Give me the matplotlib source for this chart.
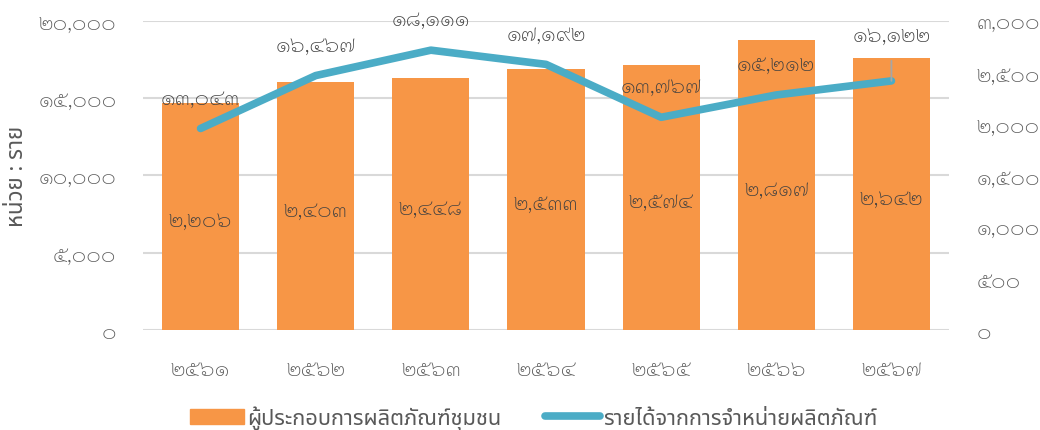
import matplotlib
matplotlib.use('Agg')
import matplotlib.pyplot as plt
from matplotlib.ticker import FuncFormatter

plt.rcParams['font.family'] = ['Sarabun', 'Noto Sans Thai', 'DejaVu Sans']
plt.rcParams['font.weight'] = 'light'

years = ['๒๕๖๑', '๒๕๖๒', '๒๕๖๓', '๒๕๖๔', '๒๕๖๕', '๒๕๖๖', '๒๕๖๗']
producers = [2206, 2403, 2448, 2533, 2574, 2817, 2642]
income = [13043, 16467, 18111, 17192, 13767, 15212, 16122]
bar_label = 'ผู้ประกอบการผลิตภัณฑ์ชุมชน'
line_label = 'รายได้จากการจำหน่ายผลิตภัณฑ์'
unit_label = 'หน่วย : ราย'

TH = str.maketrans('0123456789', '๐๑๒๓๔๕๖๗๘๙')


def thai(v):
    return '{:,}'.format(int(round(v))).translate(TH)


txt = '#595959'
grid_c = '#D9D9D9'
orange = '#F79646'
blue = '#4BACC6'
fs = 16
words = ['Noto Sans Thai', 'DejaVu Sans']

fig = plt.figure(figsize=(10.4, 4.31), dpi=100)
ax = fig.add_axes([0.1375, 0.232, 0.775, 0.717])
ax2 = ax.twinx()

x = list(range(len(years)))

# bars on the lower axes (right scale), line on top axes (left scale)
ax.bar(x, producers, width=0.67, color=orange, zorder=2)
ax.set_ylim(0, 3000)
ax.set_xlim(-0.5, len(years) - 0.5)
left_ticks = [0, 5000, 10000, 15000, 20000]
for v in left_ticks:
    ax.axhline(v * 3000 / 20000, color=grid_c, lw=1.5, zorder=1)

for xi, v in zip(x, producers):
    ax.annotate(thai(v), (xi, v / 2), xytext=(0, -3), textcoords='offset points',
                ha='center', va='center', fontsize=fs, color='#404040', zorder=3)

ax2.plot(x, income, color=blue, lw=5.5, solid_capstyle='round', solid_joinstyle='round')
ax2.set_ylim(0, 20000)
for i, (xi, v) in enumerate(zip(x, income)):
    if i == len(x) - 1:
        ax2.annotate(thai(v), (xi, v), xytext=(0, 33), textcoords='offset points',
                     ha='center', va='center', fontsize=fs, color='#404040',
                     arrowprops=dict(arrowstyle='-', color='#A6A6A6', lw=1.3,
                                     shrinkA=9, shrinkB=0))
    else:
        ax2.annotate(thai(v), (xi, v), xytext=(0, 22), textcoords='offset points',
                     ha='center', va='center', fontsize=fs, color='#404040')

# swap sides: left scale belongs to the line axes
ax.yaxis.tick_right()
ax2.yaxis.tick_left()
ax.set_yticks([0, 500, 1000, 1500, 2000, 2500, 3000])
ax2.set_yticks(left_ticks)
ax.yaxis.set_major_formatter(FuncFormatter(lambda v, p: thai(v)))
ax2.yaxis.set_major_formatter(FuncFormatter(lambda v, p: thai(v)))
ax.set_xticks(x)
ax.set_xticklabels(years)

for a in (ax, ax2):
    for s in a.spines.values():
        s.set_visible(False)
    a.tick_params(length=0, colors=txt, labelsize=fs)
ax.tick_params(axis='x', pad=21)
ax.tick_params(axis='y', pad=20)
ax2.tick_params(axis='y', pad=19)

fig.text(0.017, 0.59, unit_label, rotation=90, ha='center', va='center', fontsize=16,
         color=txt, family=words, weight='normal')

handles = [plt.Rectangle((0, 0), 1, 1, color=orange),
           plt.Line2D([0], [0], color=blue, lw=5.5, solid_capstyle='round')]
leg = fig.legend(handles, [bar_label, line_label], loc='lower center', ncol=2,
                 bbox_to_anchor=(0.513, -0.045), frameon=False,
                 prop={'family': words, 'size': 15.7, 'weight': 'normal'},
                 handlelength=2.5, handleheight=0.7, handletextpad=0.15, columnspacing=2.0,
                 labelcolor=txt)

fig.savefig('out.png')
